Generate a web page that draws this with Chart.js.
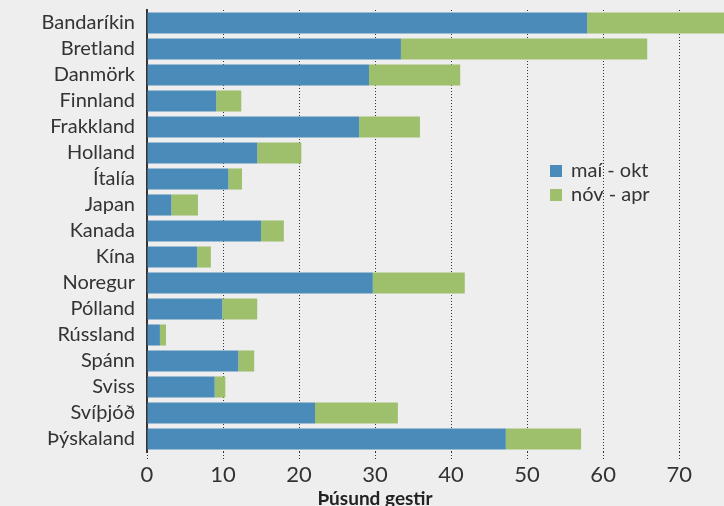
<!DOCTYPE html>
<html>
<head>
<meta charset="utf-8">
<script src="https://cdn.jsdelivr.net/npm/chart.js@4"></script>
<style>
  html, body { margin: 0; padding: 0; background: #eeeeee; }
  #wrap { width: 724px; height: 506px; position: relative; }
</style>
</head>
<body>
<div id="wrap"><canvas id="chart"></canvas></div>
<script>
// Ferðamenn eftir þjóðerni (þúsund gestir)
const countries = ['Bandaríkin', 'Bretland', 'Danmörk', 'Finnland', 'Frakkland', 'Holland', 'Ítalía',
    'Japan', 'Kanada', 'Kína', 'Noregur', 'Pólland', 'Rússland', 'Spánn', 'Sviss', 'Svíþjóð', 'Þýskaland'];
const summer = [57.9, 33.4, 29.2, 9.1, 27.9, 14.5, 10.7, 3.2, 15.0, 6.6, 29.7, 9.9, 1.7, 12.0, 8.9, 22.1, 47.2];
const winter = [20.0, 32.4, 12.0, 3.3, 8.0, 5.8, 1.8, 3.5, 3.0, 1.8, 12.1, 4.6, 0.8, 2.1, 1.4, 10.9, 9.9];
const seriesNames = ['maí - okt', 'nóv - apr'];
const xTicks = [0, 10, 20, 30, 40, 50, 60, 70];
const axisTitle = 'Þúsund gestir';

const BLUE = '#4b8bb9';
const GREEN = '#9ebf6c';
const TEXT = '#333333';
const FONT = 'Lato, "Open Sans", sans-serif';

// legend inside plot + axis title, drawn on canvas
const overlay = {
    id: 'overlay',
    afterDraw(chart) {
        const ctx = chart.ctx;
        const x = chart.scales.x;
        ctx.save();
        // legend
        chart.data.datasets.forEach((ds, i) => {
            const y = 165 + i * 24;
            ctx.fillStyle = ds.backgroundColor;
            ctx.fillRect(550, y, 12, 12);
            ctx.fillStyle = TEXT;
            ctx.font = '20px ' + FONT;
            ctx.textBaseline = 'middle';
            ctx.textAlign = 'left';
            ctx.fillText(ds.label, 571, y + 6);
        });
        // axis title
        ctx.font = 'bold 19px ' + FONT;
        ctx.textAlign = 'center';
        ctx.textBaseline = 'middle';
        ctx.fillStyle = '#222';
        ctx.fillText(axisTitle, x.getPixelForValue(30), 499);
        ctx.restore();
    }
};

new Chart(document.getElementById('chart'), {
    type: 'bar',
    data: {
        labels: countries,
        datasets: [
            { label: seriesNames[0], data: summer, backgroundColor: BLUE, barPercentage: 0.81, categoryPercentage: 1 },
            { label: seriesNames[1], data: winter, backgroundColor: GREEN, barPercentage: 0.81, categoryPercentage: 1 }
        ]
    },
    options: {
        indexAxis: 'y',
        responsive: true,
        maintainAspectRatio: false,
        animation: false,
        layout: { padding: { top: 10, left: 0, right: 0, bottom: 0 } },
        plugins: { legend: { display: false }, tooltip: { enabled: false } },
        scales: {
            x: {
                stacked: true,
                min: 0,
                max: 75.9,
                afterBuildTicks: s => { s.ticks = xTicks.map(v => ({ value: v })); },
                afterFit: s => { s.height = 54; s.paddingLeft = 0; s.paddingRight = 0; },
                grid: {
                    color: ctx => ctx.tick && ctx.tick.value === 0 ? 'rgba(0,0,0,0)' : '#333',
                    lineWidth: 1,
                    tickBorderDash: [1, 2],
                    tickColor: '#333',
                    tickLength: 8
                },
                border: { display: false, dash: [1, 2] },
                ticks: { color: TEXT, font: { family: FONT, size: 22 }, padding: 2 }
            },
            y: {
                stacked: true,
                afterFit: s => { s.width = 147; s.paddingTop = 0; s.paddingBottom = 0; },
                grid: { display: false, drawTicks: false },
                border: { display: true, color: '#333', width: 2 },
                ticks: { color: TEXT, autoSkip: false, font: { family: FONT, size: 20 }, padding: 12 }
            }
        }
    },
    plugins: [overlay]
});
</script>
</body>
</html>
